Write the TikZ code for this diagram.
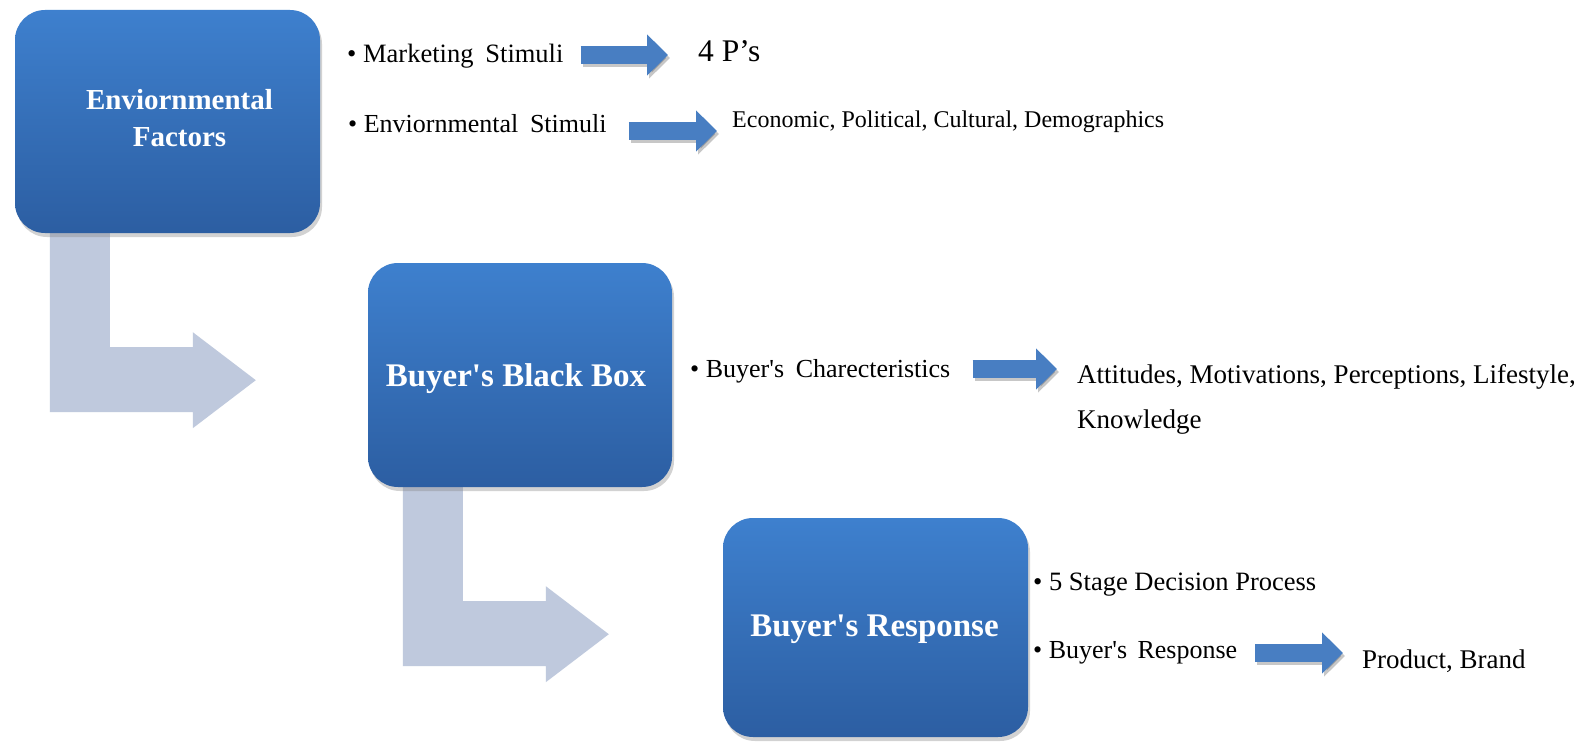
\documentclass[tikz,border=0pt]{standalone}
\usepackage{fontspec}
\setmainfont{Liberation Serif}
\usetikzlibrary{arrows.meta,calc,shadows,backgrounds}

\definecolor{boxtop}{RGB}{62,128,206}
\definecolor{boxbottom}{RGB}{44,94,162}
\definecolor{bentfill}{RGB}{191,201,221}
\definecolor{arrowblue}{RGB}{72,126,194}

\newcommand{\sq}{\textquotesingle}

\tikzset{
  bluebox/.style={rectangle, rounded corners=30pt, draw=none,
    top color=boxtop, bottom color=boxbottom,
    drop shadow={shadow xshift=2pt, shadow yshift=-4pt, opacity=.35},
    inner sep=0pt},
  boxtitle/.style={text=white, align=center, inner sep=0pt},
  lbl/.style={inner sep=0pt, text=black, anchor=base west},
  fatarrow/.style={line width=18pt, draw=arrowblue,
    -{Triangle[length=21pt,width=40pt]}},
  fatshadow/.style={line width=18pt, draw=black, opacity=.22,
    -{Triangle[length=21pt,width=40pt]},
    transform canvas={xshift=2pt,yshift=-3pt}},
  pics/bentarr/.style={code={
    \fill[bentfill] (0,0) -- ++(0,179) -- ++(143,0) -- ++(0,16)
      -- ++(63,-48) -- ++(-63,-48) -- ++(0,15) -- ++(-83,0)
      -- ++(0,-114) -- cycle;}}
}

\begin{document}
\begin{tikzpicture}[x=1pt,y=-1pt]
\useasboundingbox (0,0) rectangle (1589,741);

% the three stage boxes
\node[bluebox, minimum width=305pt, minimum height=223pt] (env) at (167.5,121.5) {};
\node[bluebox, minimum width=304pt, minimum height=224pt] (bbb) at (520,375) {};
\node[bluebox, minimum width=305pt, minimum height=219pt] (resp) at (875.5,627.5) {};

\node[boxtitle, font=\bfseries\fontsize{29}{37}\selectfont] (envT)
  at ($(env.center)+(12,-3)$) {Enviornmental\\Factors};
\node[boxtitle, font=\bfseries\fontsize{33}{38}\selectfont] (bbbT)
  at ($(bbb.center)+(-4,4)$) {Buyer\sq s Black Box};
\node[boxtitle, font=\bfseries\fontsize{33}{38}\selectfont] (respT)
  at ($(resp.center)+(-1,2)$) {Buyer\sq s Response};

% bent arrows leading from one stage to the next
\begin{pgfonlayer}{background}
  \fill[white] (0,0) rectangle (1589,741);
  \pic at ($(env.south west)+(35,0)$) {bentarr};
  \pic at ($(bbb.south west)+(35,0)$) {bentarr};
\end{pgfonlayer}

% stimuli of the first stage
\node[lbl, font=\fontsize{26.5}{30}\selectfont] (ms) at (347,63)
  {• Marketing\hspace{.45em}Stimuli};
\node[lbl, font=\fontsize{31.5}{36}\selectfont] (fp) at (698,62) {4 P’s};
\node[lbl, font=\fontsize{26}{30}\selectfont] (es) at (348,132)
  {• Enviornmental\hspace{.45em}Stimuli};
\node[lbl, font=\fontsize{24}{30}\selectfont] (ec) at (732,128)
  {Economic, Political, Cultural, Demographics};

% characteristics of the buyer
\node[lbl, font=\fontsize{26}{30}\selectfont] (bc) at (690,377)
  {• Buyer\sq s\hspace{.45em}Charecteristics};
\node[inner sep=0pt, anchor=north west, align=left,
      font=\fontsize{27}{45}\selectfont] (attr) at (1077,364.5)
  {Attitudes, Motivations, Perceptions, Lifestyle,\\Knowledge};

% responses of the buyer
\node[lbl, font=\fontsize{26.5}{30}\selectfont] (dp) at (1033,590)
  {• 5 Stage Decision Process};
\node[lbl, font=\fontsize{26}{30}\selectfont] (br) at (1033,658)
  {• Buyer\sq s\hspace{.4em}Response};
\node[lbl, font=\fontsize{27}{30}\selectfont] (pb) at (1362,668)
  {Product, Brand};

% blue arrows from each item to its content
\foreach \s/\t/\dy/\a/\b in {ms/fp/-8/17/30, es/ec/-1/22/15, bc/attr/-8/22/20, br/pb/-5/18/19}{
  \draw[fatshadow, shorten <=\a pt, shorten >=\b pt]
    ($(\s.base east)+(0,\dy)$) -- ($(\s.base east -| \t.west)+(0,\dy)$);
  \draw[fatarrow, shorten <=\a pt, shorten >=\b pt]
    ($(\s.base east)+(0,\dy)$) -- ($(\s.base east -| \t.west)+(0,\dy)$);
}
\end{tikzpicture}
\end{document}
